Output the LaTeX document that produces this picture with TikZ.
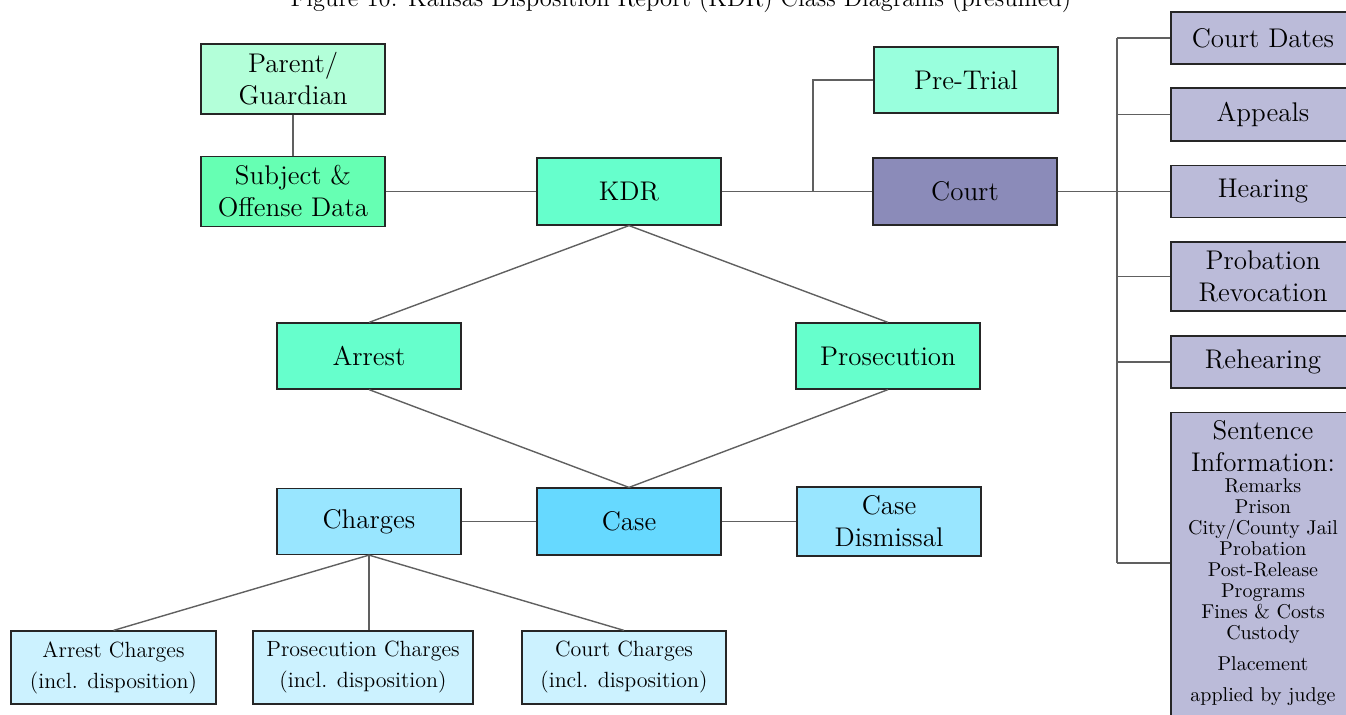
\documentclass[tikz,border=0pt]{standalone}
\definecolor{parentc}{HTML}{B3FFD9}
\definecolor{subjc}{HTML}{66FFB3}
\definecolor{kdrc}{HTML}{66FFCC}
\definecolor{pretc}{HTML}{99FFDD}
\definecolor{courtc}{HTML}{8B8BB9}
\definecolor{csubc}{HTML}{BBBBD9}
\definecolor{chargc}{HTML}{99E6FF}
\definecolor{casec}{HTML}{66D9FF}
\definecolor{subchc}{HTML}{CCF2FF}
\definecolor{linec}{HTML}{606060}
\newcommand\mainsz{\fontsize{13.5}{16}\selectfont}
\newcommand\midsz{\fontsize{11}{15.5}\selectfont}
\newcommand\smlsz{\fontsize{10}{10.5}\selectfont}
\begin{document}
\begin{tikzpicture}[x=0.5pt,y=-0.5pt,
  box/.style={draw=black!85, line width=0.6pt, inner sep=0pt, align=center, font=\mainsz, minimum width=92pt, minimum height=33.5pt},
  subbox/.style={box, fill=csubc, minimum height=26pt},
  chbox/.style={box, fill=subchc, font=\midsz, minimum height=36.5pt},
  conn/.style={draw=linec, line width=0.7pt}]
\useasboundingbox (0,0) rectangle (1346,714);
\node[anchor=base, font=\fontsize{12.3}{14}\selectfont] (title) at (681,6) {Figure 10: Kansas Disposition Report (KDR) Class Diagrams (presumed)};
% top row
\node[box, fill=parentc, minimum height=35pt] (parent) at (293,79) {Parent/\\Guardian};
\node[box, fill=subjc, minimum height=35pt] (subject) at (293,191.5) {Subject \&\\Offense Data};
\node[box, fill=kdrc] (kdr) at (629,191.5) {KDR};
\node[box, fill=pretc, minimum height=33pt] (pretrial) at (966,80) {Pre-Trial};
\node[box, fill=courtc] (court) at (965,191.5) {Court};
% court sub items
\node[subbox] (cdates) at (1263,38) {Court Dates};
\node[subbox, minimum height=26.5pt] (appeals) at (1263,114.5) {Appeals};
\node[subbox] (hearing) at (1263,191.5) {Hearing};
\node[subbox, minimum height=34.5pt] (probrev) at (1263,276.5) {Probation\\Revocation};
\node[subbox] (rehear) at (1263,362) {Rehearing};
\node[subbox, anchor=north, minimum height=160pt] (sent) at (1263,412) {};
\node[anchor=north, align=center, inner sep=0pt, font=\smlsz] (senttext) at (1263,420)
  {{\mainsz Sentence}\\[5.5pt]{\mainsz Information:}\\Remarks\\Prison\\City/County Jail\\Probation\\Post-Release\\Programs\\Fines \& Costs\\Custody\\[5pt]Placement\\[5pt]applied by judge};
% middle
\node[box, fill=kdrc, minimum height=33pt] (arrest) at (369,356) {Arrest};
\node[box, fill=kdrc, minimum height=33pt] (prosec) at (888,356) {Prosecution};
\node[box, fill=casec] (case) at (629,521.5) {Case};
\node[box, fill=chargc, minimum height=33pt] (charges) at (369,521.5) {Charges};
\node[box, fill=chargc, minimum height=34.5pt] (dismiss) at (889,521.5) {Case\\Dismissal};
% bottom
\node[chbox, minimum width=102.5pt] (arrch) at (113.5,667.5) {Arrest Charges\\(incl. disposition)};
\node[chbox, minimum width=110pt] (prosch) at (363,667.5) {Prosecution Charges\\(incl. disposition)};
\node[chbox, minimum width=102pt] (courtch) at (624,667.5) {Court Charges\\(incl. disposition)};
% connectors
\draw[conn] (parent) -- (subject);
\draw[conn] (subject) -- (kdr);
\draw[conn] (kdr) -- (court);
\coordinate (pj) at (813,191.5);
\draw[conn] (pj) |- (pretrial.west);
\coordinate (bt) at (1117,38);
\coordinate (bb) at (1117,563);
\draw[conn] (bt) -- (bb);
\draw[conn] (court) -- (hearing);
\draw[conn] (bt) -- (cdates.west);
\draw[conn] (appeals.west -| bt) -- (appeals.west);
\draw[conn] (probrev.west -| bt) -- (probrev.west);
\draw[conn] (rehear.west -| bt) -- (rehear.west);
\draw[conn] (bb) -- (bb -| sent.west);
\draw[conn] (kdr.south) -- (arrest.north);
\draw[conn] (kdr.south) -- (prosec.north);
\draw[conn] (arrest.south) -- (case.north);
\draw[conn] (prosec.south) -- (case.north);
\draw[conn] (charges) -- (case);
\draw[conn] (case) -- (dismiss);
\draw[conn] (charges.south) -- (arrch.north);
\draw[conn] (charges.south) -- (charges.south |- prosch.north);
\draw[conn] (charges.south) -- (courtch.north);
\end{tikzpicture}
\end{document}
